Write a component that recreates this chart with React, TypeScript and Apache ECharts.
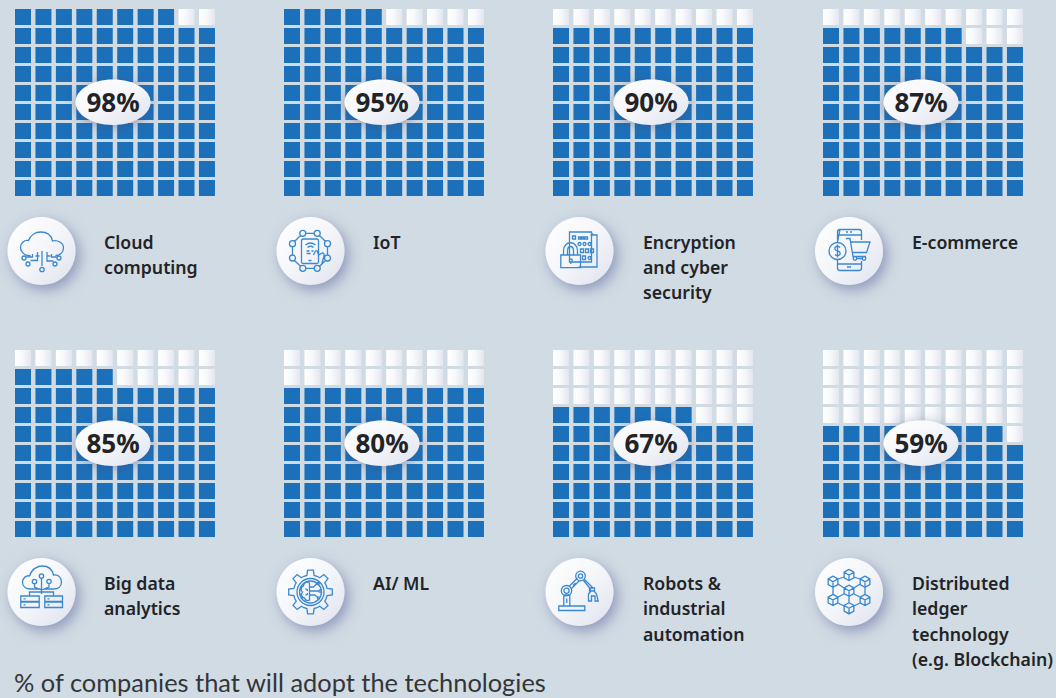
import React, { useEffect, useRef } from "react";
import * as echarts from "echarts";

const technologies = ["Cloud\ncomputing", "IoT", "Encryption\nand cyber\nsecurity", "E-commerce", "Big data\nanalytics", "AI/ ML", "Robots &\nindustrial\nautomation", "Distributed\nledger\ntechnology\n(e.g. Blockchain)"];
const adoption = [98, 95, 90, 87, 85, 80, 67, 59];
const footnote = "% of companies that will adopt the technologies";
const gridSteps = ["0", "1", "2", "3", "4", "5", "6", "7", "8", "9"];
const panelX = [15, 284, 553, 823];
const panelY = [9, 350];
const circleX = [41.5, 310.5, 579.5, 849];
const circleY = [251, 592];
const labelX = [104, 373, 643, 912];
const iconNames = ["cloud", "iot", "lock", "shop", "bigdata", "ai", "robot", "chain"];

const BG = "#d1dbe3";
const BLUE = "#1c70b9";
const INK = "#222326";
const ICON = "#3a88cf";

const c = (x: number, y: number, r: number) => `M${x - r} ${y}a${r} ${r} 0 1 0 ${2 * r} 0a${r} ${r} 0 1 0 ${-2 * r} 0Z`;
const rr = (x: number, y: number, w: number, h: number) => `M${x} ${y}h${w}v${h}h${-w}Z`;
const l = (...p: number[]) => {
  let s = "";
  for (let i = 0; i < p.length; i += 2) s += `${i ? "L" : "M"}${p[i]} ${p[i + 1]}`;
  return s;
};
const cube = (x: number, y: number) => {
  const r = 5.6, h = r * 0.5, w = r * 0.87;
  return l(x, y - r, x + w, y - h, x + w, y + h, x, y + r, x - w, y + h, x - w, y - h, x, y - r) + l(x - w, y - h, x, y, x + w, y - h) + l(x, y, x, y + r);
};
const gear = (R: number, r: number, n: number) => {
  let s = "";
  for (let i = 0; i < n; i++) {
    const a = (i / n) * Math.PI * 2;
    const d = (Math.PI * 2) / n;
    const pts: [number, number][] = [[r, a - d * 0.5], [r, a - d * 0.27], [R, a - d * 0.17], [R, a + d * 0.17], [r, a + d * 0.27]];
    pts.forEach(([q, t], j) => {
      s += `${i === 0 && j === 0 ? "M" : "L"}${(q * Math.cos(t)).toFixed(2)} ${(q * Math.sin(t)).toFixed(2)}`;
    });
  }
  return s + "Z";
};

const iconPaths: Record<string, string> = {
  cloud:
    "M-11 4.5C-17 5 -21 1 -21 -3.5C-21 -8 -17 -11.5 -13 -10.5C-11 -16 -6 -19 -1 -19C6 -19 10 -15 11 -10C16 -11.5 22 -8 22 -3C22 1.5 18 4.5 14 4.5" +
    l(-6, 5, -2, 5) + l(5, 5, 9, 5) +
    l(0.5, 0, 0.5, 15) + c(0.5, 18.5, 2.2) +
    l(-4, 1, -4, 9.5, -11, 9.5) + c(-13.5, 13, 2) +
    l(5.5, 1, 5.5, 10, 12, 10) + c(13.5, 13, 2) +
    l(-9, 3, -9, 6, -15, 6) + c(-17.5, 7, 2) +
    l(10, 3, 10, 6, 15, 6) + c(17.5, 7, 2),
  iot:
    c(-7.7, -17.7, 3) + c(6.7, -17.7, 3) + c(17, -7.3, 3) + c(17, 7, 3) + c(6.7, 17.3, 3) + c(-7.7, 17.3, 3) + c(-18, 7, 3) + c(-18, -7.3, 3) +
    l(-4.7, -17.7, 3.7, -17.7) + l(9, -15.5, 15, -9.5) + l(17, -4.3, 17, 4) + l(15, 9.5, 9, 15.2) + l(3.7, 17.3, -4.7, 17.3) + l(-10, 15.2, -16, 9.5) + l(-18, 4, -18, -4.3) + l(-16, -9.5, -10, -15.5) +
    "M-7 -12H6Q8 -12 8 -10V11Q8 12.5 6 12.5H-7Q-9 12.5 -9 11V-10Q-9 -12 -7 -12Z" +
    "M-5 -6Q0 -10 5 -6M-3 -3.5Q0 -6 3 -3.5" + l(-4, 0, -1, 0) + l(1, 0, 3, 0) + l(-4, 2.5, 0, 2.5) + l(-2, 9.5, 1, 9.5) +
    "M3 4L5 0Q7 -1 7 1L8 4L12 2Q14 2 13.5 5L11 14",
  lock:
    rr(-10, -19, 22, 30) + l(12, -16, 17.5, -16, 17.5, 16, -1, 16) + l(11, -19, 14, -16, 11, -16) +
    rr(-7, -15, 3, 3) + rr(-1, -14, 2, 2) + rr(2, -14, 2, 2) + rr(5, -14, 3, 2) +
    c(0, -7, 1.5) + c(5, -7, 1.5) + c(10, -7, 1.5) + rr(1, -2, 3, 3.5) + rr(6, -2, 3, 3.5) + rr(11, -2, 3, 3.5) + rr(3, 5, 3, 3.5) + c(10, 7, 1.5) +
    rr(-18.7, 4, 19.7, 12.7) + c(-8.7, 9.5, 1.5) + l(-8.7, 11, -8.7, 13) +
    "M-16 4V0C-16 -11 -2 -11 -2 0V4M-12 4V0C-12 -6 -6 -6 -6 0V4",
  shop:
    "M-9 -21.5H10Q12.5 -21.5 12.5 -19V-11M12.5 10V17Q12.5 19.5 10 19.5H-9Q-11.5 19.5 -11.5 17V9M-11.5 -9V-19Q-11.5 -21.5 -9 -21.5Z" +
    l(-11.5, -16, 12.5, -16) + l(-11.5, 13, 12.5, 13) + l(-3, -19, -1, -19) + l(1, -19, 3, -19) + l(-2, 16, 2, 16) +
    c(-11.5, 0, 8.5) + "M-9 -3.5Q-11.5 -6 -14 -3.5Q-14.5 -0.5 -11.5 0Q-8.5 0.5 -9 3.5Q-11.5 6 -14 3.5M-11.5 -6.5V6.5" +
    l(-3, -12.5, 1, -12.5, 4, 5.5, 17, 5.5) + l(2, -9, 21, -9, 17.5, 1.5, 3.5, 1.5) + c(6, 7.5, 1.8) + c(15, 7.5, 1.8) + l(7.8, 7.5, 13.2, 7.5),
  bigdata:
    "M-11 -3C-16 -3 -19 -6 -19 -10C-19 -14 -15 -17 -12 -16C-10 -23 -4 -26 1 -26C8 -26 11 -21 12 -17C17 -18 20 -14 20 -10C20 -6 17 -3 12 -3H2M-1 -3H-11Z" +
    c(0, -16, 2.2) + c(-7, -10.5, 2.2) + c(7.5, -10.5, 2.2) + l(0, -14, 0, 0) + l(-7, -8.5, -7, -5, 0, -2) + l(7.5, -8.5, 7.5, -5, 0, -2) +
    l(-12, 4, -12, 0, 12, 0, 12, 4) + l(0, 0, 0, 2) +
    rr(-20.7, 4, 18.4, 5.5) + rr(-20.7, 10, 18.4, 5.5) + rr(3.3, 4, 17.7, 5.5) + rr(3.3, 10, 17.7, 5.5) + l(-18, 6.8, -16, 6.8) + l(-18, 12.8, -16, 12.8) + l(6, 6.8, 8, 6.8) + l(6, 12.8, 8, 12.8),
  ai:
    gear(22, 17, 8) + c(0, 0, 13.5) + c(0, 0, 11) +
    "M-1 -9C-4 -11 -7 -9 -7 -6C-10 -5 -10 -1 -8 0C-10 2 -9 6 -6 6C-5 9 -2 9 -1 8Z" +
    l(-1, -5, 3, -5, 6, -8) + c(7.5, -8.5, 1.2) + l(-1, -1, 8, -1) + c(9.5, -1, 1.2) + l(-1, 3, 4, 3, 7, 5) + c(8, 6, 1.2) + "M-5 -3Q-3 -3 -3 -1M-5 3Q-3 3 -3 1",
  robot:
    rr(-20.7, 14, 26, 4.5) + rr(-15.7, 3, 6, 11) + l(-12.7, 6.5, -12.7, 11) + c(-13, -1.3, 5.2) + c(-13, -1.3, 2.6) + c(1, -16, 4.8) + c(1, -16, 2.2) +
    l(-10, -6, -2, -14) + l(-8, -3.5, 0, -11.5) + l(-6.5, -6.5, -4, -9) +
    l(4.5, -13, 13, -4.5) + l(4, -11.5, 11, -3) + rr(10, -4, 5, 3) +
    "M9 9V2L11.5 -1H14.5L17 2L18.7 9H15.5V4H12V9Z" + l(11, -3, 11, -1),
  chain:
    cube(0, -17) + cube(16, -10.3) + cube(16, 8) + cube(0, 16.3) + cube(-16, 8) + cube(-16, -10.3) + cube(0, -1.3) +
    l(-11, -13, -5, -15) + l(5, -15, 11, -13) + l(-16, -4.7, -16, 2.4) + l(16, -4.7, 16, 2.4) + l(-11, 11, -5, 14) + l(5, 14, 11, 11) + l(0, 4.3, 0, 10.7) + l(-11, 5, -5, 2) + l(11, 5, 5, 2) + l(-11, -8, -5, -4) + l(11, -8, 5, -4),
};
iconNames.forEach((n) => echarts.graphic.registerShape("ic_" + n, echarts.graphic.extendPath(iconPaths[n], {})));

const softGradient = () =>
  new echarts.graphic.LinearGradient(0, 0, 1, 1, [
    { offset: 0, color: "#ffffff" },
    { offset: 0.5, color: "#f5f6fa" },
    { offset: 1, color: "#dfe2ee" },
  ]);

function cells(value: number) {
  const on: [string, string][] = [];
  const off: [string, string][] = [];
  for (let i = 0; i < 100; i++) {
    const item: [string, string] = [gridSteps[i % 10], gridSteps[9 - Math.floor(i / 10)]];
    (i < value ? on : off).push(item);
  }
  return { on, off };
}

export default function App() {
  const ref = useRef<HTMLDivElement>(null);
  useEffect(() => {
    document.body.style.margin = "0";
    document.body.style.background = BG;
    const chart = echarts.init(ref.current!, undefined, { renderer: "svg" });
    const grid: any[] = [], xAxis: any[] = [], yAxis: any[] = [], series: any[] = [], graphic: any[] = [];
    adoption.forEach((value, idx) => {
      const col = idx % 4, row = Math.floor(idx / 4);
      const px = panelX[col], py = panelY[row];
      grid.push({ left: px - 2.22, top: py - 1.5, width: 204.4, height: 190 });
      const axis = { type: "category", data: gridSteps, show: false, gridIndex: idx };
      xAxis.push({ ...axis });
      yAxis.push({ ...axis, inverse: true });
      const { on, off } = cells(value);
      const base = { type: "scatter", xAxisIndex: idx, yAxisIndex: idx, symbol: "rect", symbolSize: 16, silent: true };
      series.push({ ...base, name: technologies[idx] + " adopting", data: on, itemStyle: { color: BLUE, opacity: 1 } });
      series.push({
        ...base,
        name: technologies[idx] + " not adopting",
        data: off,
        itemStyle: {
          opacity: 1,
          color: new echarts.graphic.LinearGradient(0, 0, 1, 0, [
            { offset: 0, color: "#ffffff" },
            { offset: 0.45, color: "#f8f9fb" },
            { offset: 1, color: "#e4e6ef" },
          ]),
        },
      });
      const ex = px + 98, ey = py + 93.3;
      graphic.push({
        type: "ellipse", z: 10, shape: { cx: ex, cy: ey, rx: 37.5, ry: 22.7 },
        style: { fill: softGradient(), shadowColor: "rgba(62,72,125,0.45)", shadowBlur: 12, shadowOffsetX: 0, shadowOffsetY: 2 },
      });
      graphic.push({
        type: "text", z: 11, x: ex, y: ey - 0.7,
        style: { text: `${value}%`, fill: INK, font: "700 26px 'Noto Sans'", textAlign: "center", textVerticalAlign: "middle" },
      });
      const cx = circleX[col], cy = circleY[row];
      graphic.push({
        type: "circle", z: 10, shape: { cx, cy, r: 34 },
        style: { fill: softGradient(), shadowColor: "rgba(72,86,150,0.5)", shadowBlur: 14, shadowOffsetX: 4, shadowOffsetY: 5 },
      });
      graphic.push({
        type: "ic_" + iconNames[idx], z: 11, x: cx, y: cy,
        style: { fill: "none", stroke: ICON, lineWidth: 1.3 },
      });
      technologies[idx].split("\n").forEach((line, i) => {
        graphic.push({
          type: "text", z: 11, x: labelX[col], y: (row ? 583 : 241.5) + i * 25.4,
          style: { text: line, fill: INK, font: "600 17.7px 'Noto Sans'", textAlign: "left", textVerticalAlign: "middle" },
        });
      });
    });
    graphic.push({
      type: "text", z: 11, x: 14, y: 681.5,
      style: { text: footnote, fill: "#333538", font: "400 25.4px Lato", textAlign: "left", textVerticalAlign: "middle" },
    });
    chart.setOption({ animation: false, backgroundColor: BG, grid, xAxis, yAxis, series, graphic });
    return () => chart.dispose();
  }, []);
  return <div ref={ref} style={{ width: 1056, height: 698, position: "absolute", left: 0, top: 0 }} />;
}
